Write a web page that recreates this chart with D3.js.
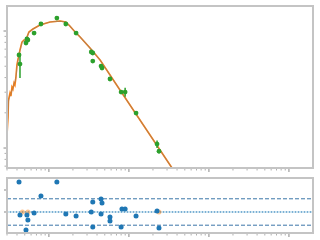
<!DOCTYPE html>
<html>
<head>
<meta charset="utf-8">
<script src="https://cdn.jsdelivr.net/npm/d3@7"></script>
<style>
  body { margin: 0; background: #fff; }
  svg { display: block; font-family: "DejaVu Sans", sans-serif; }
</style>
</head>
<body>
<div class="chart"></div>
<script>
// measured points (green) with errors
var obsX = [0.424, 0.436, 0.518, 0.532, 0.547, 0.654, 0.797, 1.26, 1.63, 2.19, 3.39, 3.54, 3.54, 4.49, 4.62, 5.81, 8.0, 8.98, 12.3, 22.5, 23.8];
var obsY = [0.624, 0.522, 0.79, 0.855, 0.838, 0.961, 1.148, 1.29, 1.148, 0.961, 0.662, 0.649, 0.554, 0.502, 0.483, 0.389, 0.301, 0.301, 0.199, 0.108, 0.094];
var obsErr = [0.02, 0.125, 0.03, 0.02, 0.02, 0.02, 0.02, 0.03, 0.02, 0.02, 0.02, 0.015, 0.015, 0.02, 0.015, 0.01, 0.01, 0.027, 0.006, 0.008, 0.004];

// model curve (orange) and its smoothed twin (grey)
var modelX = [0.3, 0.309, 0.313, 0.327, 0.336, 0.346, 0.356, 0.367, 0.377, 0.387, 0.399, 0.410, 0.424, 0.436, 0.461, 0.489, 0.518, 0.563, 0.633, 0.775, 1.035, 1.38, 1.63, 1.83, 2.13, 2.46, 3.27, 4.37, 7.74, 34.6, 45];
var modelY = [0.129, 0.184, 0.257, 0.295, 0.278, 0.332, 0.319, 0.360, 0.345, 0.397, 0.512, 0.565, 0.624, 0.689, 0.805, 0.838, 0.838, 0.980, 1.04, 1.125, 1.194, 1.217, 1.194, 1.104, 0.980, 0.889, 0.716, 0.565, 0.313, 0.0675, 0.045];
var greyY = [0.14, 0.20, 0.25, 0.28, 0.29, 0.31, 0.33, 0.35, 0.37, 0.40, 0.48, 0.55, 0.62, 0.68, 0.79, 0.83, 0.85, 0.97, 1.04, 1.125, 1.194, 1.217, 1.194, 1.104, 0.980, 0.889, 0.716, 0.565, 0.313, 0.0675, 0.045];

// residuals (bottom panel)
var residX = [0.424, 0.436, 0.518, 0.532, 0.547, 0.654, 0.797, 1.26, 1.63, 2.19, 3.39, 3.54, 3.54, 4.49, 4.62, 4.49, 5.81, 5.81, 8.0, 8.2, 8.98, 12.3, 22.5, 23.8];
var residY = [1.36, -0.14, -0.82, -0.14, -0.36, -0.05, 0.73, 1.36, -0.09, -0.18, 0.0, 0.45, -0.68, 0.59, 0.41, -0.09, -0.23, -0.41, -0.68, 0.14, 0.14, -0.18, 0.05, -0.73];
var limitX = [0.467, 0.547, 23.8];
var limitY = [0, 0, 0];

var xTicksMajor = [1, 10, 100, 1000];
var yTicksMajor = [0.1, 1];
var residTicks = [0, 1];
var bandLevel = 0.6;

var svgWidth = 320, svgHeight = 240;
var left = 7, right = 313;

var svg = d3.select(".chart").append("svg")
  .attr("width", svgWidth)
  .attr("height", svgHeight);

var x = d3.scaleLog().domain([0.3, 2000]).range([left, right]);
var y = d3.scaleLog().domain([0.0675, 1.636]).range([168, 6]);
var yr = d3.scaleLinear().domain([-0.955, 1.545]).range([233, 178]);

// minor tick helpers
function logMinor(lo, hi) {
  var out = [];
  for (var e = Math.floor(Math.log10(lo)); e <= Math.ceil(Math.log10(hi)); e++) {
    for (var k = 2; k <= 9; k++) {
      var v = k * Math.pow(10, e);
      if (v > lo && v < hi) out.push(v);
    }
  }
  return out;
}
var xMinor = logMinor(0.3, 2000);
var yMinor = logMinor(0.0675, 1.636);

svg.append("defs").append("clipPath").attr("id", "clipTop")
  .append("rect").attr("x", left).attr("y", 6).attr("width", right - left).attr("height", 162);

var tickColor = "#b0b0b0";

function xTicks(g, yb) {
  g.selectAll("line.mn").data(xMinor).enter().append("line")
    .attr("class", "mn")
    .attr("x1", d => x(d)).attr("x2", d => x(d))
    .attr("y1", yb).attr("y2", yb + 1.5)
    .attr("stroke", tickColor).attr("stroke-width", 1);
  g.selectAll("line.mj").data(xTicksMajor).enter().append("line")
    .attr("class", "mj")
    .attr("x1", d => x(d)).attr("x2", d => x(d))
    .attr("y1", yb).attr("y2", yb + 3)
    .attr("stroke", tickColor).attr("stroke-width", 1.5);
}

// ---- top panel
var topG = svg.append("g");
xTicks(topG, 169);
topG.selectAll("line.ymn").data(yMinor).enter().append("line")
  .attr("class", "ymn")
  .attr("x1", left - 2.5).attr("x2", left)
  .attr("y1", d => y(d)).attr("y2", d => y(d))
  .attr("stroke", tickColor).attr("stroke-width", 1);
topG.selectAll("line.ymj").data(yTicksMajor).enter().append("line")
  .attr("class", "ymj")
  .attr("x1", left - 3.5).attr("x2", left)
  .attr("y1", d => y(d)).attr("y2", d => y(d))
  .attr("stroke", tickColor).attr("stroke-width", 1.5);

var plot = topG.append("g").attr("clip-path", "url(#clipTop)");

var line = d3.line().x(d => x(d[0])).y(d => y(d[1]));
plot.append("path")
  .datum(modelX.map((d, i) => [d, modelY[i]]))
  .attr("d", line).attr("fill", "none")
  .attr("stroke", "#ff7f0e").attr("stroke-width", 1.6);
plot.append("path")
  .datum(modelX.map((d, i) => [d, greyY[i]]))
  .attr("d", line).attr("fill", "none")
  .attr("stroke", "#7f7f7f").attr("stroke-opacity", 0.45)
  .attr("stroke-width", 1.2);

plot.selectAll("line.err").data(obsX).enter().append("line")
  .attr("class", "err")
  .attr("x1", d => x(d)).attr("x2", d => x(d))
  .attr("y1", (d, i) => y(obsY[i] - obsErr[i]))
  .attr("y2", (d, i) => y(obsY[i] + obsErr[i]))
  .attr("stroke", "#2ca02c").attr("stroke-width", 1.5);
plot.selectAll("circle.obs").data(obsX).enter().append("circle")
  .attr("class", "obs")
  .attr("cx", d => x(d)).attr("cy", (d, i) => y(obsY[i]))
  .attr("r", 2.4).attr("fill", "#2ca02c");

topG.append("rect").attr("x", left).attr("y", 6).attr("width", right - left).attr("height", 162)
  .attr("fill", "none").attr("stroke", "#c4c4c4").attr("stroke-width", 2);

// ---- residual panel
var botG = svg.append("g");
xTicks(botG, 234);
botG.selectAll("line.rt").data(residTicks).enter().append("line")
  .attr("class", "rt")
  .attr("x1", left - 3).attr("x2", left)
  .attr("y1", d => yr(d)).attr("y2", d => yr(d))
  .attr("stroke", tickColor).attr("stroke-width", 1.5);

[bandLevel, -bandLevel].forEach(function(v) {
  botG.append("line")
    .attr("x1", left).attr("x2", right).attr("y1", yr(v)).attr("y2", yr(v))
    .attr("stroke", "#3a75a8").attr("stroke-width", 1).attr("stroke-dasharray", "4,2");
});
botG.append("line")
  .attr("x1", left).attr("x2", right).attr("y1", yr(0)).attr("y2", yr(0))
  .attr("stroke", "#9ecae1").attr("stroke-width", 1);
botG.append("line")
  .attr("x1", left).attr("x2", right).attr("y1", yr(0)).attr("y2", yr(0))
  .attr("stroke", "#2b7bba").attr("stroke-width", 1).attr("stroke-dasharray", "1,2");

botG.selectAll("circle.lim").data(limitX).enter().append("circle")
  .attr("class", "lim")
  .attr("cx", d => x(d)).attr("cy", (d, i) => yr(limitY[i]))
  .attr("r", 2.5).attr("fill", "#ff7f0e").attr("fill-opacity", 0.45);
botG.selectAll("circle.res").data(residX).enter().append("circle")
  .attr("class", "res")
  .attr("cx", d => x(d)).attr("cy", (d, i) => yr(residY[i]))
  .attr("r", 2.5).attr("fill", "#1f77b4");

botG.append("rect").attr("x", left).attr("y", 178).attr("width", right - left).attr("height", 55)
  .attr("fill", "none").attr("stroke", "#c4c4c4").attr("stroke-width", 2);
</script>
</body>
</html>
